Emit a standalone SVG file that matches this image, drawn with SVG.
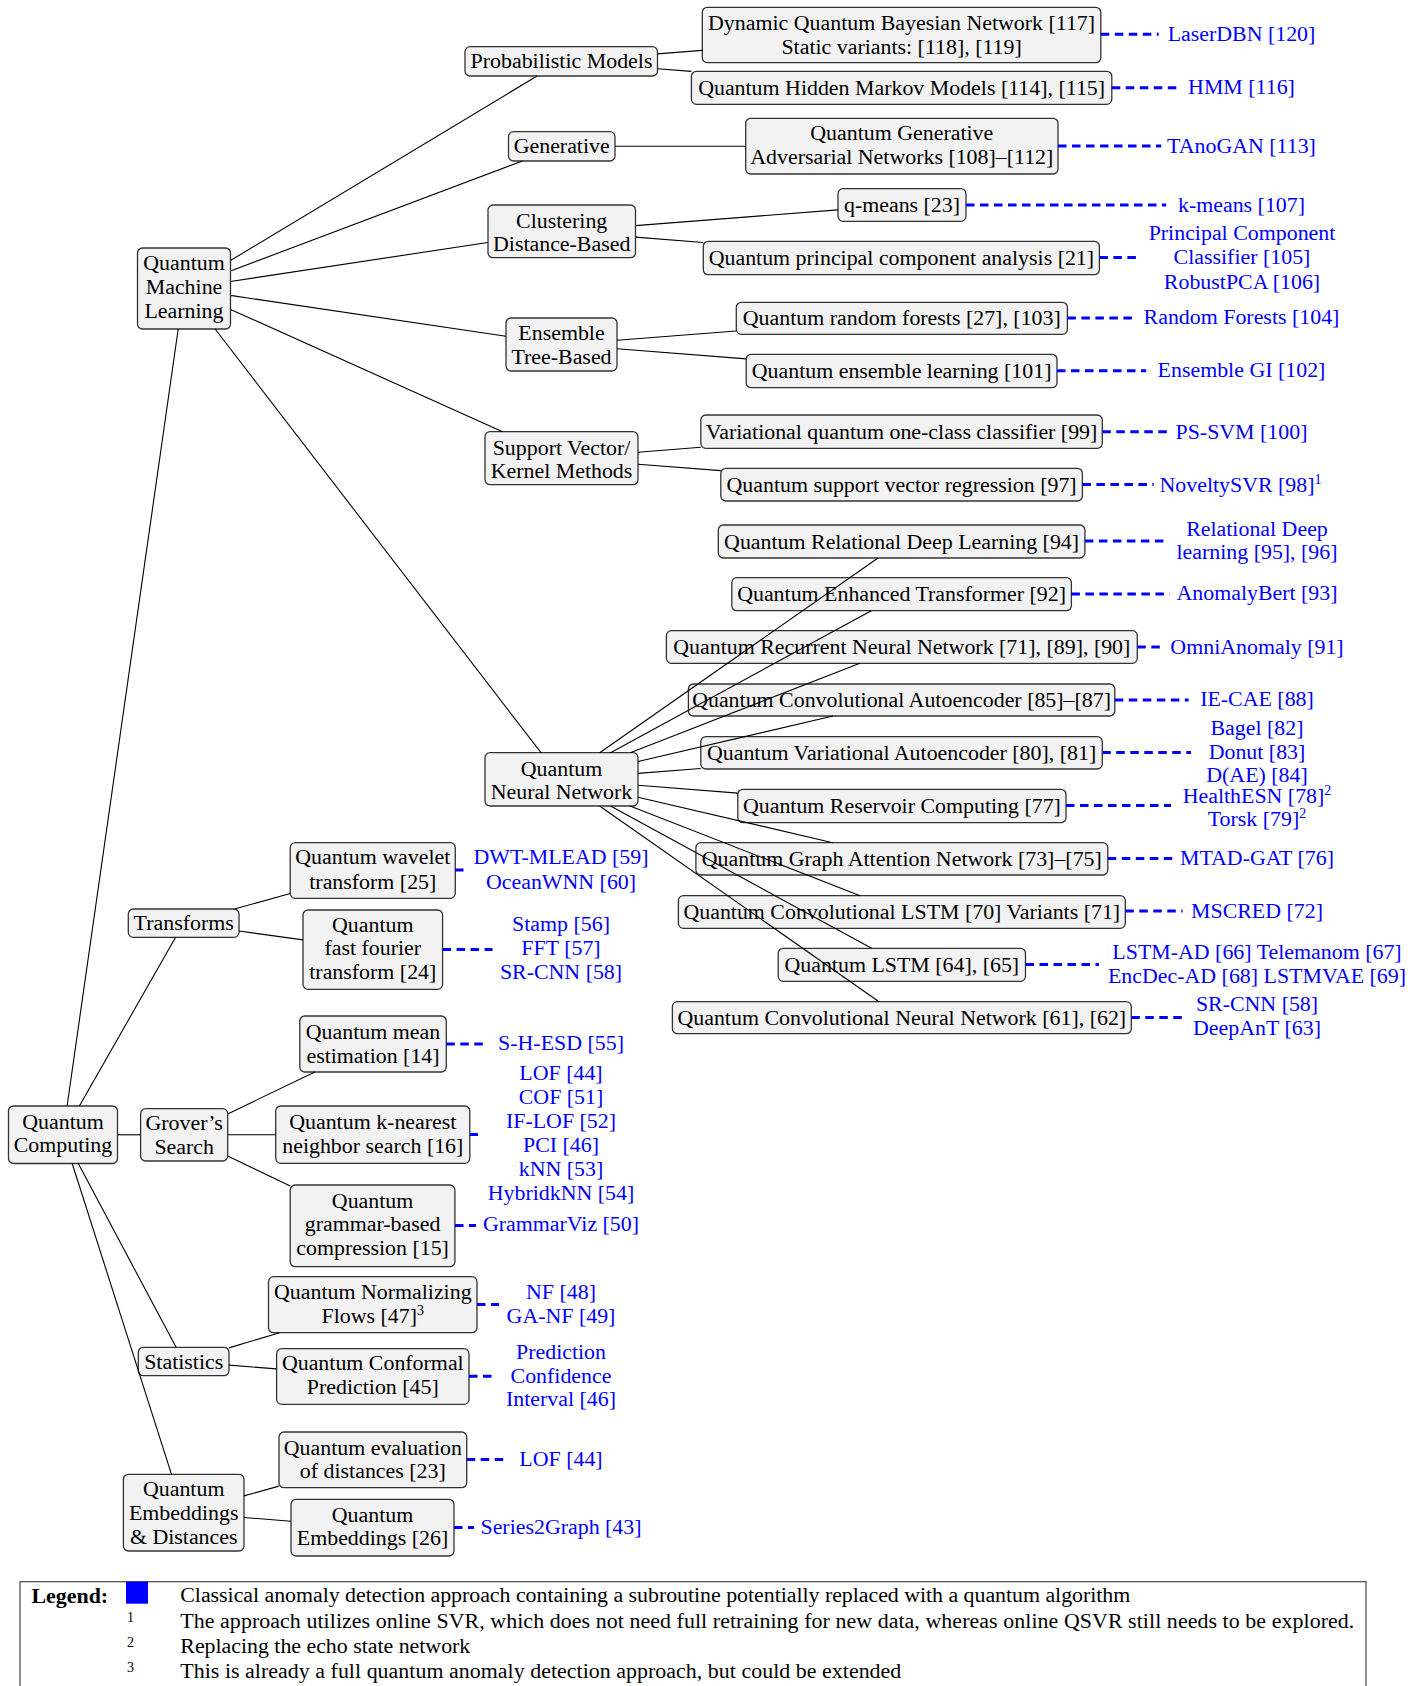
<svg xmlns="http://www.w3.org/2000/svg" width="1422" height="1686" viewBox="0 0 1422 1686">
<style>
.box{fill:#f2f2f2;stroke:#333;stroke-width:1.3}
text{font-family:"Liberation Serif","Times New Roman",serif;font-size:21.9px;text-anchor:middle;fill:#000}
.bl{fill:#0000ff}
.e{stroke:#000;stroke-width:1.1;fill:none}
.d{stroke:#0000ff;stroke-width:3;stroke-dasharray:8.5 5.5;fill:none}
.sup{font-size:14px}
.lg{text-anchor:start}
</style>
<rect width="1422" height="1686" fill="#fff"/>

<g id="n-qc"><rect class="box" x="8.5" y="1106" width="109" height="57.5" rx="5"/><text x="63" y="1128.7">Quantum</text><text x="63" y="1152">Computing</text></g>
<g id="n-qml"><rect class="box" x="137.5" y="248" width="93" height="81" rx="5"/><text x="184" y="270.3">Quantum</text><text x="184" y="293.7">Machine</text><text x="184" y="317.7">Learning</text></g>
<g id="n-pm"><rect class="box" x="465" y="46.7" width="192.5" height="29.3" rx="5"/><text x="561.5" y="68.3">Probabilistic Models</text></g>
<g id="n-gen"><rect class="box" x="508.5" y="131.7" width="106.5" height="29.3" rx="5"/><text x="561.7" y="153.3">Generative</text></g>
<g id="n-clust"><rect class="box" x="488" y="205" width="147.5" height="52.7" rx="5"/><text x="561.7" y="227.7">Clustering</text><text x="561.7" y="251.3">Distance-Based</text></g>
<g id="n-ens"><rect class="box" x="506" y="318" width="111" height="53" rx="5"/><text x="561.5" y="340.3">Ensemble</text><text x="561.5" y="364.3">Tree-Based</text></g>
<g id="n-svk"><rect class="box" x="485" y="431.7" width="153" height="53" rx="5"/><text x="561.5" y="455.3">Support Vector/</text><text x="561.5" y="477.7">Kernel Methods</text></g>
<g id="n-qnn"><rect class="box" x="485" y="752.7" width="153" height="53.3" rx="5"/><text x="561.5" y="776">Quantum</text><text x="561.5" y="799.3">Neural Network</text></g>

<g id="n-dqbn"><rect class="box" x="702.3" y="7.3" width="398.5" height="55.4" rx="5"/><text x="901.6" y="29.7">Dynamic Quantum Bayesian Network [117]</text><text x="901.6" y="53.7">Static variants: [118], [119]</text></g>
<g id="n-qhmm"><rect class="box" x="691.4" y="71.3" width="420.4" height="33" rx="5"/><text x="901.6" y="94.8">Quantum Hidden Markov Models [114], [115]</text></g>
<g id="n-qgan"><rect class="box" x="745.7" y="118.3" width="312.3" height="55.7" rx="5"/><text x="901.8" y="140.3">Quantum Generative</text><text x="901.8" y="163.7">Adversarial Networks [108]–[112]</text></g>
<g id="n-qmeans"><rect class="box" x="838" y="188.7" width="128" height="32.6" rx="5"/><text x="902" y="212">q-means [23]</text></g>
<g id="n-qpca"><rect class="box" x="703.3" y="241.3" width="396.1" height="33.4" rx="5"/><text x="901.4" y="265">Quantum principal component analysis [21]</text></g>
<g id="n-qrf"><rect class="box" x="736.3" y="302.3" width="331.1" height="32" rx="5"/><text x="901.8" y="325.3">Quantum random forests [27], [103]</text></g>
<g id="n-qel"><rect class="box" x="746.2" y="354.3" width="310.8" height="33.4" rx="5"/><text x="901.6" y="378">Quantum ensemble learning [101]</text></g>
<g id="n-vqocc"><rect class="box" x="700.8" y="415" width="401.5" height="33.3" rx="5"/><text x="901.6" y="438.7">Variational quantum one-class classifier [99]</text></g>
<g id="n-qsvr"><rect class="box" x="720.8" y="468.3" width="361.6" height="32.7" rx="5"/><text x="901.6" y="491.7">Quantum support vector regression [97]</text></g>
<g id="n-qrdl"><rect class="box" x="718.3" y="525" width="366.6" height="33" rx="5"/><text x="901.6" y="548.5">Quantum Relational Deep Learning [94]</text></g>
<g id="n-qet"><rect class="box" x="731.8" y="577.7" width="339.6" height="33" rx="5"/><text x="901.6" y="601.2">Quantum Enhanced Transformer [92]</text></g>
<g id="n-qrnn"><rect class="box" x="666.4" y="630.7" width="470.9" height="32.6" rx="5"/><text x="901.8" y="654">Quantum Recurrent Neural Network [71], [89], [90]</text></g>
<g id="n-qcae"><rect class="box" x="688.4" y="684" width="426.4" height="32" rx="5"/><text x="901.6" y="707">Quantum Convolutional Autoencoder [85]–[87]</text></g>
<g id="n-qvae"><rect class="box" x="700.8" y="736.7" width="401.5" height="32.3" rx="5"/><text x="901.6" y="759.9">Quantum Variational Autoencoder [80], [81]</text></g>
<g id="n-qrc"><rect class="box" x="737.8" y="789.3" width="328.2" height="33.4" rx="5"/><text x="901.9" y="813">Quantum Reservoir Computing [77]</text></g>
<g id="n-qgat"><rect class="box" x="695.9" y="842.7" width="411.9" height="32.3" rx="5"/><text x="901.8" y="865.9">Quantum Graph Attention Network [73]–[75]</text></g>
<g id="n-qclstm"><rect class="box" x="678.4" y="895.7" width="446.9" height="32.6" rx="5"/><text x="901.8" y="919">Quantum Convolutional LSTM [70] Variants [71]</text></g>
<g id="n-qlstm"><rect class="box" x="778.2" y="948.3" width="247.3" height="33" rx="5"/><text x="901.8" y="971.8">Quantum LSTM [64], [65]</text></g>
<g id="n-qcnn"><rect class="box" x="672.4" y="1001.7" width="458.9" height="32" rx="5"/><text x="901.8" y="1024.7">Quantum Convolutional Neural Network [61], [62]</text></g>

<g id="n-trans"><rect class="box" x="128.3" y="909" width="110.7" height="28.3" rx="5"/><text x="183.7" y="930.3">Transforms</text></g>
<g id="n-qwt"><rect class="box" x="290.2" y="842.7" width="165.1" height="55.6" rx="5"/><text x="372.8" y="863.7">Quantum wavelet</text><text x="372.8" y="888.7">transform [25]</text></g>
<g id="n-qfft"><rect class="box" x="303" y="910" width="139.6" height="79.3" rx="5"/><text x="372.8" y="932">Quantum</text><text x="372.8" y="955.3">fast fourier</text><text x="372.8" y="979.3">transform [24]</text></g>
<g id="n-qme"><rect class="box" x="299.8" y="1016" width="146.5" height="56" rx="5"/><text x="373" y="1039">Quantum mean</text><text x="373" y="1062.7">estimation [14]</text></g>
<g id="n-grover"><rect class="box" x="140.6" y="1108.7" width="87.1" height="52.3" rx="5"/><text x="184.2" y="1130.3">Grover’s</text><text x="184.2" y="1153.7">Search</text></g>
<g id="n-qknn"><rect class="box" x="275.7" y="1106" width="194.1" height="57.3" rx="5"/><text x="372.8" y="1128.7">Quantum k-nearest</text><text x="372.8" y="1152.7">neighbor search [16]</text></g>
<g id="n-qgbc"><rect class="box" x="290.2" y="1185" width="164.7" height="81.7" rx="5"/><text x="372.6" y="1207.7">Quantum</text><text x="372.6" y="1231.3">grammar-based</text><text x="372.6" y="1255.3">compression [15]</text></g>
<g id="n-qnf"><rect class="box" x="268.5" y="1276.7" width="208.5" height="56" rx="5"/><text x="372.8" y="1299.3">Quantum Normalizing</text><text x="372.8" y="1323">Flows [47]<tspan class="sup" dy="-8">3</tspan></text></g>
<g id="n-stats"><rect class="box" x="138.3" y="1347.3" width="90.7" height="28.4" rx="5"/><text x="183.7" y="1369.3">Statistics</text></g>
<g id="n-qcp"><rect class="box" x="276.6" y="1348.7" width="192.4" height="55.6" rx="5"/><text x="372.8" y="1370.3">Quantum Conformal</text><text x="372.8" y="1393.7">Prediction [45]</text></g>
<g id="n-qed"><rect class="box" x="279" y="1432" width="187.7" height="55.7" rx="5"/><text x="372.8" y="1454.7">Quantum evaluation</text><text x="372.8" y="1478">of distances [23]</text></g>
<g id="n-qembd"><rect class="box" x="123.4" y="1474.3" width="120.6" height="76.7" rx="5"/><text x="183.7" y="1496.3">Quantum</text><text x="183.7" y="1520.3">Embeddings</text><text x="183.7" y="1543.7">&amp; Distances</text></g>
<g id="n-qemb"><rect class="box" x="291" y="1499.3" width="163" height="56.7" rx="5"/><text x="372.5" y="1522">Quantum</text><text x="372.5" y="1545.3">Embeddings [26]</text></g>

<g id="classical-labels" class="bl">
<text class="bl" x="1241.5" y="41.3">LaserDBN [120]</text>
<text class="bl" x="1241.5" y="94.3">HMM [116]</text>
<text class="bl" x="1241.5" y="153">TAnoGAN [113]</text>
<text class="bl" x="1241.5" y="211.7">k-means [107]</text>
<text class="bl" x="1242" y="240">Principal Component</text>
<text class="bl" x="1242" y="264.3">Classifier [105]</text>
<text class="bl" x="1242" y="288.7">RobustPCA [106]</text>
<text class="bl" x="1241.5" y="324.3">Random Forests [104]</text>
<text class="bl" x="1241.5" y="377">Ensemble GI [102]</text>
<text class="bl" x="1241.5" y="438.7">PS-SVM [100]</text>
<text class="bl" x="1240.5" y="492">NoveltySVR [98]<tspan class="sup" dy="-8">1</tspan></text>
<text class="bl" x="1257" y="536">Relational Deep</text>
<text class="bl" x="1257" y="558.7">learning [95], [96]</text>
<text class="bl" x="1257" y="600.3">AnomalyBert [93]</text>
<text class="bl" x="1257" y="653.7">OmniAnomaly [91]</text>
<text class="bl" x="1257" y="706.3">IE-CAE [88]</text>
<text class="bl" x="1257" y="735.3">Bagel [82]</text>
<text class="bl" x="1257" y="759.3">Donut [83]</text>
<text class="bl" x="1257" y="782.3">D(AE) [84]</text>
<text class="bl" x="1257" y="803">HealthESN [78]<tspan class="sup" dy="-8">2</tspan></text>
<text class="bl" x="1257" y="826">Torsk [79]<tspan class="sup" dy="-8">2</tspan></text>
<text class="bl" x="1257" y="865.3">MTAD-GAT [76]</text>
<text class="bl" x="1257" y="917.7">MSCRED [72]</text>
<text class="bl" x="1257" y="958.7">LSTM-AD [66] Telemanom [67]</text>
<text class="bl" x="1257" y="982.7">EncDec-AD [68] LSTMVAE [69]</text>
<text class="bl" x="1257" y="1011.3">SR-CNN [58]</text>
<text class="bl" x="1257" y="1035.3">DeepAnT [63]</text>
<text class="bl" x="561" y="863.7">DWT-MLEAD [59]</text>
<text class="bl" x="561" y="888.7">OceanWNN [60]</text>
<text class="bl" x="561" y="931.3">Stamp [56]</text>
<text class="bl" x="561" y="955.3">FFT [57]</text>
<text class="bl" x="561" y="979.3">SR-CNN [58]</text>
<text class="bl" x="561" y="1050.3">S-H-ESD [55]</text>
<text class="bl" x="561" y="1080.3">LOF [44]</text>
<text class="bl" x="561" y="1104.3">COF [51]</text>
<text class="bl" x="561" y="1128">IF-LOF [52]</text>
<text class="bl" x="561" y="1152">PCI [46]</text>
<text class="bl" x="561" y="1176">kNN [53]</text>
<text class="bl" x="561" y="1199.7">HybridkNN [54]</text>
<text class="bl" x="561" y="1231.3">GrammarViz [50]</text>
<text class="bl" x="561" y="1299.3">NF [48]</text>
<text class="bl" x="561" y="1323">GA-NF [49]</text>
<text class="bl" x="561" y="1359.3">Prediction</text>
<text class="bl" x="561" y="1382.7">Confidence</text>
<text class="bl" x="561" y="1406.3">Interval [46]</text>
<text class="bl" x="561" y="1466">LOF [44]</text>
<text class="bl" x="561" y="1533.7">Series2Graph [43]</text>
</g>

<g id="connectors">
<g class="e">
<line x1="230.5" y1="260.5" x2="537.1" y2="76"/>
<line x1="230.5" y1="271" x2="522.5" y2="161"/>
<line x1="230.5" y1="281.45" x2="487.8" y2="242.5"/>
<line x1="230.5" y1="295.4" x2="506" y2="336.3"/>
<line x1="230.5" y1="309.4" x2="502.6" y2="431.7"/>
<line x1="215.1" y1="329" x2="541" y2="752.7"/>
<line x1="657.5" y1="53.85" x2="702.3" y2="50.4"/>
<line x1="657.5" y1="68.8" x2="691.4" y2="71.4"/>
<line x1="615" y1="146.3" x2="745.7" y2="146.3"/>
<line x1="635.5" y1="225.6" x2="838" y2="209.9"/>
<line x1="635.5" y1="237.1" x2="703.3" y2="242.45"/>
<line x1="617" y1="340.2" x2="736.3" y2="331"/>
<line x1="617" y1="348.8" x2="746.2" y2="358.9"/>
<line x1="638" y1="452.2" x2="700.8" y2="447.3"/>
<line x1="638" y1="464.2" x2="720.8" y2="470.6"/>
<line x1="599.7" y1="752.7" x2="878" y2="558"/>
<line x1="610.5" y1="752.7" x2="871.3" y2="610.7"/>
<line x1="630.2" y1="752.7" x2="860" y2="663.3"/>
<line x1="638" y1="761.5" x2="833" y2="716"/>
<line x1="638" y1="773.4" x2="700.8" y2="768.5"/>
<line x1="638" y1="785.3" x2="737.8" y2="793.1"/>
<line x1="638" y1="797.2" x2="832.8" y2="842.7"/>
<line x1="630" y1="806" x2="860.1" y2="895.7"/>
<line x1="610.5" y1="806" x2="871.6" y2="948.3"/>
<line x1="599.6" y1="806" x2="879" y2="1001.7"/>
<line x1="67.1" y1="1106" x2="178.2" y2="329"/>
<line x1="79.4" y1="1106" x2="175.6" y2="937.3"/>
<line x1="117.5" y1="1134.8" x2="140.6" y2="1134.8"/>
<line x1="78.3" y1="1163.5" x2="176.1" y2="1347.3"/>
<line x1="72.2" y1="1163.5" x2="171.5" y2="1474.3"/>
<line x1="234.5" y1="909" x2="290.2" y2="893.5"/>
<line x1="239" y1="931" x2="303" y2="939.9"/>
<line x1="227.7" y1="1113.9" x2="314.85" y2="1072"/>
<line x1="227.7" y1="1134.8" x2="275.7" y2="1134.8"/>
<line x1="227.7" y1="1155.9" x2="290.2" y2="1186.1"/>
<line x1="229" y1="1347.9" x2="279.6" y2="1332.7"/>
<line x1="229" y1="1365.1" x2="276.6" y2="1368.9"/>
<line x1="244" y1="1495.9" x2="279" y2="1486.1"/>
<line x1="244" y1="1517.5" x2="291" y2="1521.2"/>
</g>
<g class="d">
<line x1="1100.8" y1="34.3" x2="1158.7" y2="34.3"/>
<line x1="1111.8" y1="87.8" x2="1180.2" y2="87.8"/>
<line x1="1058" y1="146" x2="1161.2" y2="146"/>
<line x1="966" y1="205" x2="1166.2" y2="205"/>
<line x1="1099.4" y1="257.5" x2="1141.2" y2="257.5"/>
<line x1="1067.4" y1="318" x2="1136.3" y2="318"/>
<line x1="1057" y1="370.7" x2="1146.2" y2="370.7"/>
<line x1="1102.3" y1="431.7" x2="1168.7" y2="431.7"/>
<line x1="1082.4" y1="484.5" x2="1153.7" y2="484.5"/>
<line x1="1084.9" y1="541" x2="1168.7" y2="541"/>
<line x1="1071.4" y1="594" x2="1169.7" y2="594"/>
<line x1="1137.3" y1="647" x2="1162.7" y2="647"/>
<line x1="1114.8" y1="700" x2="1188.6" y2="700"/>
<line x1="1102.3" y1="752.5" x2="1191" y2="752.5"/>
<line x1="1066" y1="805.5" x2="1171" y2="805.5"/>
<line x1="1107.8" y1="858.5" x2="1172.7" y2="858.5"/>
<line x1="1125.3" y1="911" x2="1182.6" y2="911"/>
<line x1="1025.5" y1="964.5" x2="1098.9" y2="964.5"/>
<line x1="1131.3" y1="1017.5" x2="1187.1" y2="1017.5"/>
<line x1="455.3" y1="870" x2="463.5" y2="870"/>
<line x1="442.6" y1="949.5" x2="492.5" y2="949.5"/>
<line x1="446.3" y1="1044" x2="486.6" y2="1044"/>
<line x1="469.8" y1="1134.5" x2="478" y2="1134.5"/>
<line x1="455" y1="1225.5" x2="476" y2="1225.5"/>
<line x1="477" y1="1304.5" x2="499" y2="1304.5"/>
<line x1="469" y1="1376.3" x2="493.4" y2="1376.3"/>
<line x1="466.7" y1="1459.5" x2="507" y2="1459.5"/>
<line x1="454" y1="1527.5" x2="474" y2="1527.5"/>
</g>
</g>

<g id="legend">
<rect x="20" y="1581.7" width="1346" height="130" fill="none" stroke="#444" stroke-width="1.2"/>
<text class="lg" x="31.5" y="1603.3" font-weight="bold">Legend:</text>
<rect x="126" y="1581.7" width="22" height="22" fill="#0000ff"/>
<text class="lg" x="180.3" y="1602.3" textLength="950" lengthAdjust="spacing">Classical anomaly detection approach containing a subroutine potentially replaced with a quantum algorithm</text>
<text class="sup" x="130.5" y="1621.7">1</text>
<text class="lg" x="180.3" y="1628.3" textLength="1174" lengthAdjust="spacing">The approach utilizes online SVR, which does not need full retraining for new data, whereas online QSVR still needs to be explored.</text>
<text class="sup" x="130.5" y="1646.7">2</text>
<text class="lg" x="180.3" y="1653.3" textLength="290" lengthAdjust="spacing">Replacing the echo state network</text>
<text class="sup" x="130.5" y="1671.7">3</text>
<text class="lg" x="180.3" y="1678.3" textLength="721" lengthAdjust="spacing">This is already a full quantum anomaly detection approach, but could be extended</text>
</g>
</svg>
